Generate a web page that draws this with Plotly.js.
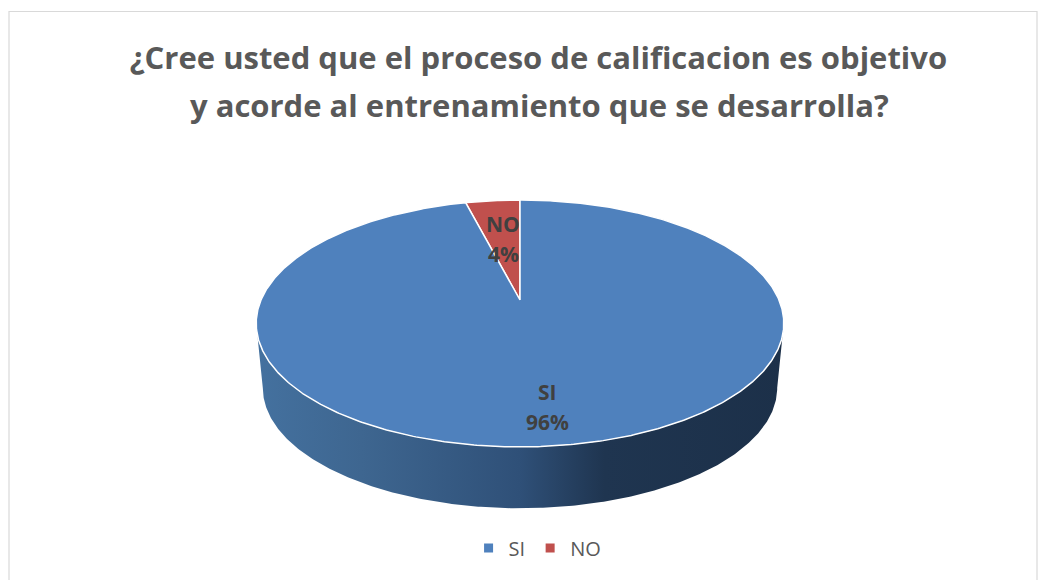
<!DOCTYPE html>
<html><head><meta charset="utf-8">
<script src="https://cdn.plot.ly/plotly-3.0.1.min.js"></script>
<style>html,body{margin:0;padding:0;background:#fff}#c{width:1052px;height:580px}</style>
</head><body><div id="c"></div>
<script>
const categories = ["NO", "SI"];
const values = [4, 96];
const colors = ["#c0504d", "#4f81bd"];
const legendOrder = ["SI", "NO"];
const titleLines = ["¿Cree usted que el proceso de calificacion es objetivo", "y acorde al entrenamiento que se desarrolla?"];

// projection of the tilted pie onto the hidden pixel-scaled axes
const cx = 520, apexY = 300, A = 119, B = 259, K = 0.19;
function project(deg, scale, dy) {
  const t = deg * Math.PI / 180, u = Math.sin(t), v = Math.cos(t), w = 1 + K * v;
  return [cx + scale * B * u / w, apexY + dy - scale * A * v / w];
}
function arc(from, to, scale, dy) {
  const n = Math.max(2, Math.ceil(Math.abs(to - from) * 2)), xs = [], ys = [];
  for (let i = 0; i <= n; i++) {
    const p = project(from + (to - from) * i / n, scale, dy);
    xs.push(p[0]); ys.push(p[1]);
  }
  return [xs, ys];
}
const total = values.reduce((a, b) => a + b, 0);
const traces = [];

// side wall: front part of the rim
const ext = Math.asin(K) * 180 / Math.PI;
const topArc = arc(90 + ext, 270 - ext, 1, 0);
const botArc = arc(270 - ext, 90 + ext, 0.975, 65);
traces.push({
  x: topArc[0].concat(botArc[0]), y: topArc[1].concat(botArc[1]),
  mode: "lines", line: {width: 0}, fill: "toself", hoverinfo: "skip", showlegend: false,
  fillcolor: "#2d4e74",
  fillgradient: {type: "horizontal", colorscale: [
    [0, "#44719f"], [0.2, "#3e6690"], [0.5, "#2f5078"], [0.66, "#1f3550"], [1, "#1c3049"]]}
});

// top slices: NO ends at 12 o'clock, SI runs clockwise from there
let start = -values[0] / total * 360;
categories.forEach((name, i) => {
  const sweep = values[i] / total * 360;
  const a = arc(start, start + sweep, 1, 0);
  traces.push({
    x: [cx].concat(a[0], [cx]), y: [apexY].concat(a[1], [apexY]),
    mode: "lines", fill: "toself", fillcolor: colors[i],
    line: {color: "#ffffff", width: 1.5},
    name: name, text: name + ": " + values[i] + "%", hoverinfo: "text", showlegend: false
  });
  start += sweep;
});

// legend entries as small squares
legendOrder.forEach(name => {
  traces.push({
    x: [null], y: [null], mode: "markers", name: name,
    marker: {symbol: "square", size: 9, color: colors[categories.indexOf(name)]}
  });
});

const labelFont = {family: "Open Sans, sans-serif", size: 21, color: "#404040"};
function label(x, y, text) {
  return {x: x, y: y, xref: "x", yref: "y", text: "<b>" + text + "</b>", showarrow: false, font: labelFont,
          xanchor: "center", yanchor: "middle"};
}
const layout = {
  width: 1052, height: 580, margin: {l: 0, r: 0, t: 0, b: 0},
  paper_bgcolor: "#ffffff", plot_bgcolor: "#ffffff",
  title: {
    text: "<b>" + titleLines[0] + "</b>",
    font: {family: "Open Sans, sans-serif", size: 31, color: "#595959"},
    x: 538.5 / 1052, xanchor: "center", xref: "paper", y: 0.9, yanchor: "middle"
  },
  xaxis: {range: [0, 1052], visible: false, fixedrange: true},
  yaxis: {range: [580, 0], visible: false, fixedrange: true},
  showlegend: true,
  legend: {orientation: "h", x: 0.511, xanchor: "center", y: 0.055, yanchor: "middle",
           font: {family: "Open Sans, sans-serif", size: 20, color: "#595959"},
           itemwidth: 30, bgcolor: "rgba(0,0,0,0)"},
  shapes: [{type: "path", xref: "x", yref: "y",
            path: "M 9 580 L 9 11.5 L 1037 11.5 L 1037 580",
            line: {color: "#d9d9d9", width: 1.2}}],
  annotations: [
    {xref: "paper", yref: "paper", x: 539.5 / 1052, y: 1 - 105 / 580, xanchor: "center", yanchor: "middle",
     showarrow: false, text: "<b>" + titleLines[1] + "</b>",
     font: {family: "Open Sans, sans-serif", size: 31, color: "#595959"}},
    label(547, 392, categories[1]), label(547, 422, values[1] + "%"),
    label(503, 224, categories[0]), label(503, 254, values[0] + "%")
  ]
};
Plotly.newPlot("c", traces, layout, {displayModeBar: false, responsive: false});
</script></body></html>
